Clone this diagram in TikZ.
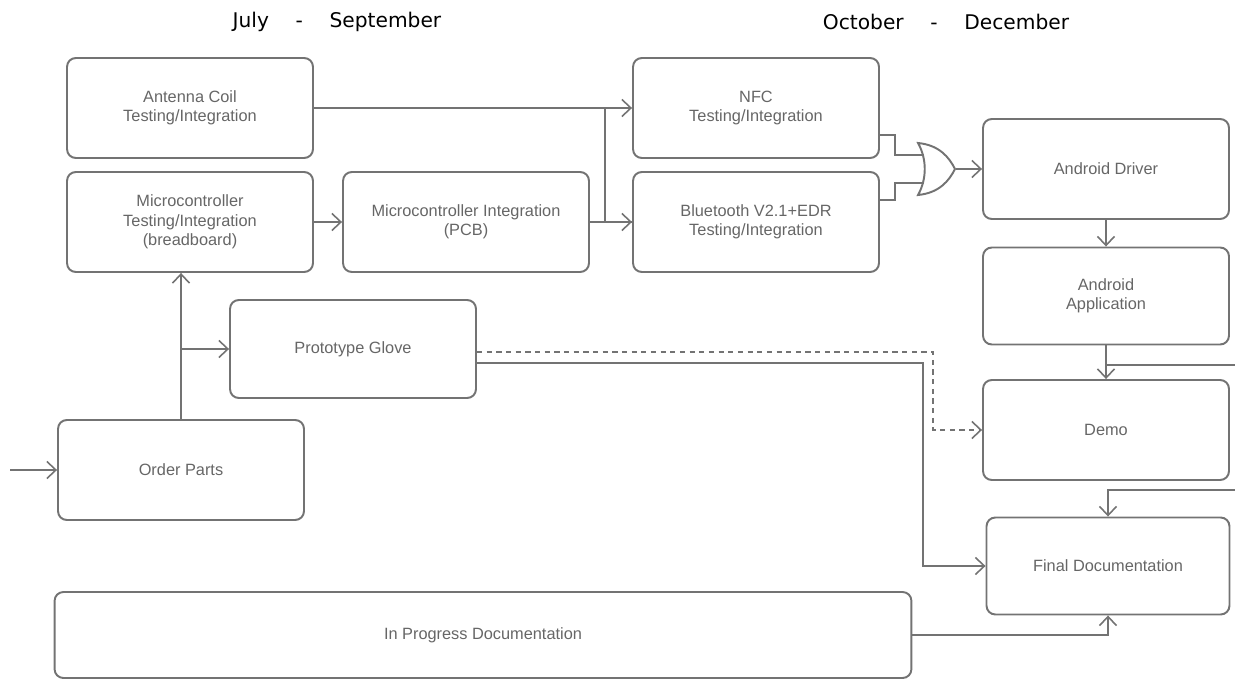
\documentclass[tikz,border=0pt]{standalone}
\usepackage{fontspec}
\setmainfont{Liberation Sans}
\newfontfamily\headfont{DejaVu Sans}
\usetikzlibrary{arrows.meta}

\begin{document}
\begin{tikzpicture}[x=0.02cm,y=-0.02cm,
  task/.style={draw=black!55,line width=1.1pt,rounded corners=5pt,align=center,text=black!60,
    font=\fontsize{9.3}{11}\selectfont,minimum width=4.92cm,minimum height=2cm,inner sep=2pt},
  wire/.style={draw=black!55,line width=0.9pt},
  link/.style={wire,-{Straight Barb[length=1.8mm,width=3.4mm]}},
  head/.style={font=\headfont\fontsize{11.5}{13}\selectfont}]
\useasboundingbox (0,0) rectangle (1235,679);

\node[head] (q3) at (337,22) {July \quad - \quad September};
\node[head] (q4) at (946,22) {October \quad - \quad December};

\node[task] (antenna) at (190,108) {Antenna Coil\\Testing/Integration};
\node[task] (micro) at (190,222) {Microcontroller\\Testing/Integration\\(breadboard)};
\node[task] (pcb) at (466,222) {Microcontroller Integration\\(PCB)};
\node[task] (nfc) at (756,108) {NFC\\Testing/Integration};
\node[task] (bt) at (756,222) {Bluetooth V2.1+EDR\\Testing/Integration};
\node[task] (driver) at (1106,169) {Android Driver};
\node[task,minimum height=1.94cm] (app) at (1106,296) {Android\\Application};
\node[task] (demo) at (1106,430) {Demo};
\node[task,minimum width=4.86cm,minimum height=1.94cm] (final) at (1108,566) {Final Documentation};
\node[task,minimum height=1.96cm] (glove) at (353,349) {Prototype Glove};
\node[task] (order) at (181,470) {Order Parts};
\node[task,minimum width=17.14cm,minimum height=1.72cm] (progress) at (483,635) {In Progress Documentation};

% or gate
\node[minimum width=0.74cm,minimum height=1.04cm,inner sep=0] (gate) at (937,169) {};
\draw[wire,line width=1.1pt,shift={(gate.center)}] (-19,-26) .. controls (2,-24) and (12,-12) .. (18,0)
  .. controls (12,12) and (2,24) .. (-19,26) .. controls (-10,10) and (-10,-10) .. cycle;
\coordinate (in1) at ([xshift=0.12cm,yshift=0.28cm]gate.west);
\coordinate (in2) at ([xshift=0.12cm,yshift=-0.28cm]gate.west);

\coordinate (fork) at (605,108);
\coordinate (start) at (10,470);
\coordinate (appin) at (1235,365);
\coordinate (finin) at (1235,490);

% upper row
\draw[link] (antenna.east) -- (nfc.west);
\draw[link] (micro.east) -- (pcb.west);
\draw[link] (pcb.east) -- (bt.west);
\draw[wire] (fork) |- (bt.west);

% into the gate
\draw[wire] ([yshift=-0.54cm]nfc.east) -- ++(15,0) |- (in1);
\draw[wire] ([yshift=0.44cm]bt.east) -- ++(15,0) |- (in2);
\draw[link] (gate.east) -- (driver.west);

% right column
\draw[link] (driver.south) -- (app.north);
\draw[link] (app.south) -- (demo.north);
\draw[wire] (appin) -- (appin -| app.south);
\draw[link] (finin) -| (final.north);
\draw[link] (progress.east) -| (final.south);

% left side
\draw[link] (start) -- (order.west);
\draw[link] (order.north) -- (order.north |- micro.south);
\draw[link] (order.north |- glove.west) -- (glove.west);
\draw[link,dash pattern=on 3pt off 2.5pt] ([yshift=-0.06cm]glove.east) -- ++(456,0) |- (demo.west);
\draw[link] ([yshift=-0.28cm]glove.east) -- ++(446,0) |- (final.west);
\end{tikzpicture}
\end{document}
